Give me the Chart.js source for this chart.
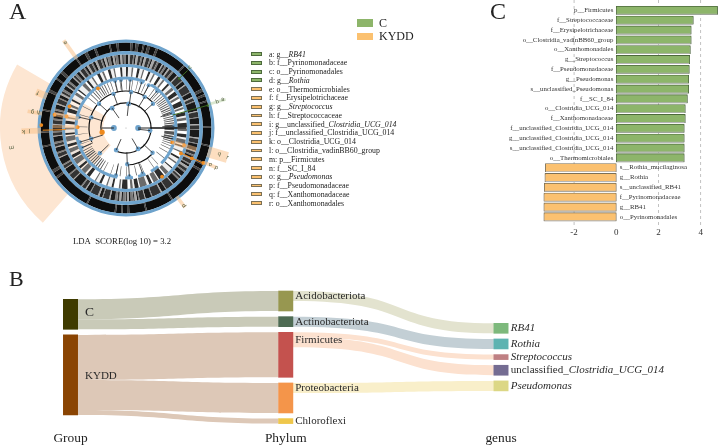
<!DOCTYPE html>
<html>
<head>
<meta charset="utf-8">
<script src="https://cdn.jsdelivr.net/npm/chart.js@4"></script>
<style>
  body { margin: 0; background: #fff; font-family: "Liberation Serif", serif; color: #222; }
  #page { position: relative; width: 719px; height: 448px; overflow: hidden; }
  canvas { position: absolute; }
  #bandChart, #nodeChart { filter: blur(0.4px); }
  .txt { position: absolute; white-space: nowrap; line-height: 1; }
  .swatch { position: absolute; box-sizing: border-box; }
</style>
</head>
<body>
<div id="page">
  <canvas id="wedgeChart" width="256" height="256" style="left:-2.3px;top:0.3px"></canvas>
  <canvas id="bandChart" width="256" height="256" style="left:-2.3px;top:0.3px"></canvas>
  <canvas id="nodeChart" width="256" height="256" style="left:-2.3px;top:0.3px"></canvas>
  <canvas id="ldaChart" width="239" height="240" style="left:480px;top:0"></canvas>
  <canvas id="sankeyChart" width="719" height="178" style="left:0;top:270px"></canvas>
  <div class="txt" style="left:9px;top:-1px;font-size:24px">A</div>
  <div class="txt" style="left:9px;top:268px;font-size:22px">B</div>
  <div class="txt" style="left:490px;top:-1px;font-size:24px">C</div>
  <div class="txt" style="left:73px;top:236.5px;font-size:8.7px">LDA&nbsp; SCORE(log 10) = 3.2</div>
  <div id="legend"></div>
</div>
<script>
// ---- panel A: cladogram legend
const legendLetters = ["a","b","c","d","e","f","g","h","i","j","k","l","m","n","o","p","q","r"];
const legendPrefix = ["g__","f__Pyrinomonadaceae","o__Pyrinomonadales","g__","o__Thermomicrobiales","f__Erysipelotrichaceae","g__","f__Streptococcaceae","g__unclassified_","f__unclassified_Clostridia_UCG_014","o__Clostridia_UCG_014","o__Clostridia_vadinBB60_group","p__Firmicutes","f__SC_I_84","g__","f__Pseudomonadaceae","f__Xanthomonadaceae","o__Xanthomonadales"];
const legendItalic = ["RB41","","","Rothia","","","Streptococcus","","Clostridia_UCG_014","","","","","","Pseudomonas","","",""];
const legendGroup = ["C","C","C","C","KYDD","KYDD","KYDD","KYDD","KYDD","KYDD","KYDD","KYDD","KYDD","KYDD","KYDD","KYDD","KYDD","KYDD"];
const groupLegend = ["C","KYDD"];

// ---- panel A: cladogram (angles in degrees, clockwise from the top)
const wedgeWidths = [221.3, 78.9, 59.8];
const speciesBand = [3,1.5,2,2,3,1,2,2,4,1.5,20.5,1,19,2,2,1.5,3,1,16.5,1,12,1,11,2,3,1.5,26.5,1,18,1,11,1.5,3,1,3.5,1,19,1,26,1.5,3,2,16.5,1,9,1,14,1,12,2,8,1,4,2,12,1,6,2,5,1.5,9,1,4,1.5,5];
const genusBand = [1.5,1.2,2,0.8,1,1.5,1.8,1,1.2,1.4,2.2,0.9,1,1.6,1.7,1.1,2.4,0.8,1.3,1.2,1.6,1,2,1.2,
  3,0.7,4,0.6,2.5,0.8,5,0.5,3,0.9,2,0.6,6,0.7,3.5,0.5,4,0.8,2.5,0.6,5,0.7,3,0.5,4.5,0.8,
  2,1,1.5,1.2,2.5,0.8,1.5,1.4,2,1,3,0.7,1.5,1,
  4,0.6,5,0.5,3,0.8,6,0.6,4,0.5,3.5,0.7,
  1,1.5,0.8,1.8,1.2,1.2,0.8,2,1,1.4,1.2,1.6,
  3,0.8,4,0.6,2,1,5,0.5,3,0.7,2.5,0.9,6,0.6,3.5,0.8,4,0.5,2,1,4.5,0.6,
  2.5,1,3,0.8,1.8,1.2,3.5,0.7,2,1,4,0.6,2.5,1.1,3,0.8,1.5,1.2,2.8,0.9,3,0.8,
  2,1.2,1.5,1.4,2.5,0.9,1.8,1.2,3,0.8,1.4,1.5,2,1,2.6,1,1.5,1.3,2.2,1,1.6,1.4,2.4,1,
  1.2,1.5,1,1.8,1.5,1.2,0.8,1.6,1.4,1.3,1,1.5];
const familyBand = [1,1.8,0.8,2,1.2,1.5,0.7,2.2,1,1.6,0.8,1.9,1.3,1.4,0.9,2.1,1,1.7,
  1.5,1,2,0.8,1.2,1.3,2.5,0.7,1,1.5,1.8,0.9,1.4,1.2,2.2,0.8,1.1,1.5,1.6,1,2.4,0.7,
  0.9,2,0.7,2.3,1,1.8,0.8,2.5,0.6,2.2,
  2,0.7,3,0.6,2.5,0.8,1.5,1.2,3.5,0.6,2,0.9,1.2,1.4,2.8,0.7,
  0.8,2.6,1,2,0.7,2.4,1.2,1.8,0.6,3,
  1.8,1,2.5,0.7,1.2,1.5,3,0.6,1.6,1.2,2,0.9,1.4,1.3,2.6,0.7,1,1.6,
  1,1.8,1.6,1.2,0.8,2.2,2,0.9,1.2,1.7,0.9,2.4,1.5,1.1,0.7,2.5,1.8,1,1.1,1.9,0.8,2.3,1.4,1.3,0.9,2,1.3,1.5,0.7,2.6,1,1.9];
const orderBand = [0.5,5,0.5,4,0.5,6,0.5,3,0.5,5,0.5,4,
  0.6,2,0.6,1.5,0.7,1.4,0.6,1.2,0.8,1,0.7,1.2,0.9,1,0.8,1.2,1,0.9,0.8,1,1,1.1,0.7,1.2,0.8,1,
  0.9,1,0.8,1.1,1,0.9,1.4,0.9,2.5,1,3,0.8,1.5,0.9,1,1,0.8,1.2,0.7,1.4,0.6,2,0.6,3,
  0.5,5,0.5,7,0.5,4,0.5,9,0.5,6,0.6,8,0.5,5,
  0.6,3,0.6,4,0.5,6,0.5,2.5,0.8,1.5,0.8,1.2,1,1.3,0.8,1.1,1,1.2,0.7,1.5,0.8,1.2,1.1,1,0.8,1.3,0.7,1.6,0.6,2,0.6,3,
  0.5,8,0.5,6,0.5,10,0.5,7,0.5,8,0.6,3,0.7,2,0.8,1.5,0.7,1.8,0.6,1.5,0.9,1.2,0.7,1.6,0.8,2,0.6,2.4,0.6,3,0.5,4,0.5,5];
const orderArcs = [[0,22],[30,135],[140,150],[157,166],[172,181],[190,260],[262,360]];
const classArcs = [[0,50],[133,180],[248,360]];
const phylumArcs = [[0,206],[258,360]];
const phylumNodes = [6,96,150,204,325];
const classNodes = [287,253,8,31,48,133,178,226,312,340];
const orderNodes = [19,354,5,347,283,253,246,72,88,103,160,176,192,28,40];
const kingdomNodes = [270,90];
const kyddNodes = [[2,260],[4,271],[5,281],[5,291],[6,280.5],[7,272],[4,324.7],[4,107],[5,106.5],[5,114.8],[6,114.7],[7,114.3],[5,143.5]];
const cNodes = [[7,74.6],[6,47]];
// angle, inner radius, outer radius, width in degrees
const kyddStrips = [[324.6,88,111,2],[291.9,88,100,4],[279.7,88,103,2],[268.2,88,108,3],[106.2,88,109,5.7],[113.7,88,102,2],[143.4,88,102,2],[107,50,76,3.5],[281,50,76,3],[271,50,76,2.5]];
const cStrips = [[46.5,88,92,1.5],[74,88,107,1.5]];
const kyddLines = [[268.5,62,86],[114.5,62,86]];
const cLines = [[74.5,50,87],[47,74,87]];
const cladeLetters = ["m","f","g","h","k","l","e","r","q","p","o","d","c","b","a"];
const letterAngles = [260.4,291.9,279.8,280.5,268,268.5,324.6,106.2,105.5,113.7,113.5,143.4,46.5,74,73.5];
const letterRadii = [120,98,98,92,106,100,108,109,100,102,95,100,91,98,104];

// ---- panel C: LDA scores
const ldaLabels = ["p__Firmicutes","f__Streptococcaceae","f__Erysipelotrichaceae","o__Clostridia_vadinBB60_group","o__Xanthomonadales","g__Streptococcus","f__Pseudomonadaceae","g__Pseudomonas","s__unclassified_Pseudomonas","f__SC_I_84","o__Clostridia_UCG_014","f__Xanthomonadaceae","f__unclassified_Clostridia_UCG_014","g__unclassified_Clostridia_UCG_014","s__unclassified_Clostridia_UCG_014","o__Thermomicrobiales","s__Rothia_mucilaginosa","g__Rothia","s__unclassified_RB41","f__Pyrinomonadaceae","g__RB41","o__Pyrinomonadales"];
const ldaC = [4.8,3.65,3.55,3.55,3.51,3.48,3.46,3.43,3.43,3.37,3.27,3.27,3.22,3.22,3.22,3.22,null,null,null,null,null,null];
const ldaKYDD = [null,null,null,null,null,null,null,null,null,null,null,null,null,null,null,null,-3.36,-3.38,-3.41,-3.43,-3.43,-3.43];
const ldaTicks = [-2,0,2,4];

// ---- panel B: sankey
const columnNames = ["Group","Phylum","genus"];
const groupNames = ["C","KYDD"];
const groupValues = [6,16];
const phylumNames = ["Acidobacteriota","Actinobacteriota","Firmicutes","Proteobacteria","Chloroflexi"];
const phylumValues = [4,2,9,6,1];
const phylumParent = [0,0,1,1,1];
const genusNames = ["RB41","Rothia","Streptococcus","unclassified_","Pseudomonas"];
const genusValues = [2,2,1,2,2];
const genusParent = [0,1,2,2,3];

const GREEN = "#8db56a", GREEN_EDGE = "#4d6a3c", ORANGE = "#fbc170", ORANGE_EDGE = "#7c7055";
const BLUE = "#6ea3cc", PEACH = "#fde6d2", SERIF = "Liberation Serif";
const CLEAR = "rgba(0,0,0,0)";

function $(id) { return document.getElementById(id); }

// legends are plain html
const legendBox = $("legend");
groupLegend.forEach((name, i) => {
  legendBox.innerHTML += `<div class="swatch" style="left:357.3px;top:${19.3 + i * 13.4}px;width:16px;height:7.4px;background:${i ? ORANGE : GREEN}"></div>`
    + `<div class="txt" style="left:379px;top:${16.5 + i * 13.4}px;font-size:12px">${name}</div>`;
});
legendLetters.forEach((letter, i) => {
  const y = 54 + i * 8.765;
  const isC = legendGroup[i] === "C";
  legendBox.innerHTML += `<div class="swatch" style="left:250.7px;top:${y - 1.8}px;width:11.4px;height:3.8px;background:${isC ? GREEN : ORANGE};border:0.7px solid ${isC ? GREEN_EDGE : ORANGE_EDGE}"></div>`
    + `<div class="txt" style="left:269px;top:${y - 3.4}px;font-size:7.85px">${letter}: ${legendPrefix[i]}<i>${legendItalic[i]}</i></div>`;
});

const baseOptions = {
  responsive: false,
  animation: false,
  events: [],
  plugins: { legend: { display: false }, tooltip: { enabled: false } }
};

// turns [start,end] arcs into gap/arc widths for a doughnut ring
function arcWidths(arcs) {
  const out = [];
  let pos = 0;
  arcs.forEach(a => {
    out.push(a[0] - pos, a[1] - a[0]);
    pos = a[1];
  });
  out.push(360 - pos);
  return out;
}

function ring(widths, weight, colors) {
  return {
    data: widths,
    weight: weight,
    borderWidth: 0,
    backgroundColor: widths.map((w, i) => colors[i % colors.length])
  };
}

new Chart($("wedgeChart"), {
  type: "doughnut",
  data: {
    datasets: [
      ring([360], 2, [CLEAR]),
      ring(wedgeWidths, 103, [CLEAR, PEACH]),
      ring([360], 23, [CLEAR])
    ]
  },
  options: { ...baseOptions, cutout: 0 }
});

// rings go from the outside to the inside, weights are pixels of radius
new Chart($("bandChart"), {
  type: "doughnut",
  data: {
    datasets: [
      ring([360], 39.5, [CLEAR]),
      ring([360], 3, [BLUE]),
      ring(speciesBand, 8.5, ["#0d0d0d", "#444444"]),
      ring([360], 3.5, [BLUE]),
      ring(genusBand, 9.5, ["#1a1a1a", "#a8a8a8", "#333333", "#7c7c7c"]),
      ring([360], 3, [BLUE]),
      ring(familyBand, 9.5, ["#2c2c2c", "rgba(225,225,225,0.55)", "#6a6a6a", "rgba(255,255,255,0.4)"]),
      ring(arcWidths(orderArcs), 3, [CLEAR, BLUE]),
      ring(orderBand, 10, ["#555555", CLEAR]),
      ring([360], 0.9, [CLEAR]),
      ring(arcWidths(classArcs), 1.2, [CLEAR, "#111111"]),
      ring([360], 10.7, [CLEAR]),
      ring(arcWidths(phylumArcs), 1.2, [CLEAR, "#111111"]),
      ring([360], 24.5, [CLEAR])
    ]
  },
  options: { ...baseOptions, cutout: 0 }
});

const LEVEL_R = 12.5;

function polar(angle, r) {
  const a = angle * Math.PI / 180;
  return { x: r * Math.sin(a), y: r * Math.cos(a) };
}

function spokes(nodes, level) {
  const out = [];
  nodes.forEach(angle => {
    out.push(polar(angle, (level - 1) * LEVEL_R), polar(angle, level * LEVEL_R), { x: null, y: null });
  });
  return out;
}

function lineSet(list, color, width) {
  const pts = [];
  list.forEach(l => pts.push(polar(l[0], l[1]), polar(l[0], l[2]), { x: null, y: null }));
  return { data: pts, showLine: true, spanGaps: false, pointRadius: 0, borderColor: color, borderWidth: width };
}

function stripSet(strip, color) {
  return {
    data: [polar(strip[0], strip[1]), polar(strip[0], strip[2])],
    showLine: true, pointRadius: 0, borderColor: color,
    borderWidth: strip[2] * strip[3] * Math.PI / 180
  };
}

function nodeSet(nodes, level, radius, color) {
  return {
    data: nodes.map(a => polar(a, level * LEVEL_R)),
    pointRadius: radius, pointBackgroundColor: color, pointBorderWidth: 0
  };
}

const cladeLetterPlugin = {
  id: "cladeLetters",
  afterDatasetsDraw(chart) {
    const { ctx, scales } = chart;
    ctx.save();
    ctx.font = "5.5px 'DejaVu Sans'";
    ctx.fillStyle = "#4d5a3c";
    ctx.textAlign = "center";
    ctx.textBaseline = "middle";
    cladeLetters.forEach((letter, i) => {
      const p = polar(letterAngles[i], letterRadii[i]);
      ctx.save();
      ctx.translate(scales.x.getPixelForValue(p.x), scales.y.getPixelForValue(p.y));
      ctx.rotate((letterAngles[i] - 90) * Math.PI / 180);
      ctx.fillText(letter, 0, 0);
      ctx.restore();
    });
    ctx.restore();
  }
};

new Chart($("nodeChart"), {
  type: "scatter",
  data: {
    datasets: [
      ...kyddStrips.map(s => stripSet(s, "rgba(249,190,130,0.5)")),
      ...cStrips.map(s => stripSet(s, "rgba(150,185,120,0.35)")),
      lineSet([[270, LEVEL_R, 2 * LEVEL_R], [90, LEVEL_R, 2 * LEVEL_R]], "#222", 1),
      { data: [...spokes(phylumNodes, 2), ...spokes(classNodes, 3), ...spokes(orderNodes, 4)], showLine: true, spanGaps: false, pointRadius: 0, borderColor: "#222", borderWidth: 0.8 },
      lineSet([[90, 2 * LEVEL_R, 5 * LEVEL_R]], "#111", 1.6),
      lineSet(kyddLines, "#ee8a1e", 1),
      lineSet(cLines, "#3d6a22", 1),
      { data: [{ x: 0, y: 0 }], pointRadius: 0.5, pointBackgroundColor: "#999", pointBorderWidth: 0 },
      nodeSet(kingdomNodes, 1, 2.9, BLUE),
      nodeSet(phylumNodes, 2, 2.4, BLUE),
      nodeSet(classNodes, 3, 2.2, BLUE),
      nodeSet(orderNodes, 4, 2.1, BLUE),
      { data: kyddNodes.map(n => polar(n[1], n[0] * LEVEL_R)), pointRadius: c => (kyddNodes[c.dataIndex][0] === 2 ? 2.6 : 1.9), pointBackgroundColor: "#ee8a1e", pointBorderWidth: 0 },
      { data: cNodes.map(n => polar(n[1], n[0] * LEVEL_R)), pointRadius: 1.2, pointBackgroundColor: "#3d6a22", pointBorderWidth: 0 }
    ]
  },
  options: {
    ...baseOptions,
    layout: { padding: 0 },
    scales: {
      x: { type: "linear", min: -128, max: 128, display: false },
      y: { type: "linear", min: -128, max: 128, display: false }
    }
  },
  plugins: [cladeLetterPlugin]
});

// bar labels sit against the zero line, on the free side of each bar
const ldaLabelPlugin = {
  id: "ldaLabels",
  beforeDatasetDraw(chart) {
    const ctx = chart.ctx;
    ctx.save();
    ctx.shadowColor = "#b5b5b5";
    ctx.shadowOffsetY = 1;
    ctx.shadowBlur = 0;
  },
  afterDatasetDraw(chart) {
    chart.ctx.restore();
  },
  afterDatasetsDraw(chart) {
    const { ctx, scales } = chart;
    const zero = scales.x.getPixelForValue(0);
    ctx.save();
    ctx.font = `6.8px '${SERIF}'`;
    ctx.fillStyle = "#333";
    ctx.textBaseline = "middle";
    ldaLabels.forEach((label, i) => {
      const y = scales.y.getPixelForValue(i);
      if (ldaC[i] !== null) {
        ctx.textAlign = "right";
        ctx.fillText(label, zero - 3, y);
      } else {
        ctx.textAlign = "left";
        ctx.fillText(label, zero + 3.5, y);
      }
    });
    ctx.restore();
  }
};

function ldaSet(values, color, edge) {
  return {
    data: values,
    backgroundColor: color,
    borderColor: edge,
    borderWidth: 0.9,
    borderSkipped: false,
    barThickness: 8.2,
    grouped: false,
    clip: false
  };
}

new Chart($("ldaChart"), {
  type: "bar",
  data: {
    labels: ldaLabels,
    datasets: [ldaSet(ldaC, GREEN, GREEN_EDGE), ldaSet(ldaKYDD, ORANGE, ORANGE_EDGE)]
  },
  options: {
    ...baseOptions,
    indexAxis: "y",
    layout: { padding: { left: 60.3, right: 0, top: 5.4, bottom: 0 } },
    scales: {
      y: { display: false },
      x: {
        type: "linear",
        min: -3.6,
        max: 4.867,
        afterBuildTicks(scale) { scale.ticks = ldaTicks.map(v => ({ value: v })); },
        afterFit(scale) { scale.height = 18.3; },
        border: { display: false },
        grid: { display: false, tickLength: 3 },
        ticks: { font: { family: SERIF, size: 9 }, color: "#333", padding: 3, maxRotation: 0, autoSkip: false }
      }
    }
  },
  plugins: [{
    id: "ldaDash",
    beforeDatasetsDraw(chart) {
      // dashed guides run to the very top of the panel
      const { ctx, scales, chartArea } = chart;
      ctx.save();
      ctx.strokeStyle = "#a8a8a8";
      ctx.lineWidth = 0.7;
      ctx.setLineDash([3, 3]);
      ldaTicks.forEach(v => {
        if (v === 0) return;
        const x = scales.x.getPixelForValue(v);
        ctx.beginPath();
        ctx.moveTo(x, 0);
        ctx.lineTo(x, chartArea.bottom + 4);
        ctx.stroke();
      });
      ctx.restore();
    }
  }, ldaLabelPlugin]
});

// stacks a column of node values from a start offset, with a fixed gap
const GAP = 1.13;
function stack(values, start) {
  let pos = start;
  return values.map(v => {
    const span = [pos, pos + v];
    pos += v + GAP;
    return span;
  });
}

const groupSpans = stack(groupValues, 1.66);
const phylumSpans = stack(phylumValues, 0);
const genusSpans = stack(genusValues, 6.46);

const groupColors = ["#3f3b00", "#8a4402"];
const phylumColors = ["#979750", "#4e6b53", "#c4524e", "#f4954a", "#efc74b"];
const genusColors = ["#7db97c", "#5eb3b1", "#bf8083", "#746c92", "#dcd785"];
const groupFlowColors = ["#c9cab8", "#ddc8b7"];
const phylumFlowColors = ["#e3e3cf", "#c3cfd5", "#fce1cf", "#f9efca"];

function nodeDatasets(spans, colors, col) {
  return spans.map((span, i) => ({
    data: columnNames.map((n, c) => (c === col ? span : null)),
    backgroundColor: colors[i],
    borderWidth: 0,
    barThickness: 14.3,
    grouped: false,
    clip: false
  }));
}

function drawFlows(chart, parents, parentSpans, childSpans, colors, col, bend0, bend1) {
  const { ctx, scales } = chart;
  const halfBar = 7.15;
  const x0 = scales.x.getPixelForValue(col) + halfBar;
  const x1 = scales.x.getPixelForValue(col + 1) - halfBar;
  const c0 = x0 + (x1 - x0) * bend0;
  const c1 = x0 + (x1 - x0) * bend1;
  const used = parentSpans.map(s => s[0]);
  parents.forEach((p, i) => {
    const v = childSpans[i][1] - childSpans[i][0];
    const a0 = scales.y.getPixelForValue(used[p]);
    const a1 = scales.y.getPixelForValue(used[p] + v);
    const b0 = scales.y.getPixelForValue(childSpans[i][0]);
    const b1 = scales.y.getPixelForValue(childSpans[i][1]);
    used[p] += v;
    ctx.fillStyle = colors[p];
    ctx.beginPath();
    ctx.moveTo(x0, a0);
    ctx.bezierCurveTo(c0, a0, c1, b0, x1, b0);
    ctx.lineTo(x1, b1);
    ctx.bezierCurveTo(c1, b1, c0, a1, x0, a1);
    ctx.closePath();
    ctx.fill();
  });
}

const sankeyFlowPlugin = {
  id: "sankeyFlows",
  beforeDatasetsDraw(chart) {
    drawFlows(chart, phylumParent, groupSpans, phylumSpans, groupFlowColors, 0, 0.5, 0.5);
    drawFlows(chart, genusParent, phylumSpans, genusSpans, phylumFlowColors, 1, 0.62, 0.45);
  },
  afterDatasetsDraw(chart) {
    const { ctx, scales } = chart;
    ctx.save();
    ctx.textBaseline = "middle";
    ctx.fillStyle = "#2a2a2a";
    const mid = s => scales.y.getPixelForValue((s[0] + s[1]) / 2);
    ctx.font = `13.5px '${SERIF}'`;
    ctx.fillText(groupNames[0], scales.x.getPixelForValue(0) + 14.5, mid(groupSpans[0]) - 2);
    ctx.font = `11px '${SERIF}'`;
    ctx.fillText(groupNames[1], scales.x.getPixelForValue(0) + 14.5, mid(groupSpans[1]) + 1);
    phylumNames.forEach((name, i) => {
      const top = scales.y.getPixelForValue(phylumSpans[i][0]);
      const drop = i === 2 ? 7.5 : Math.min(5, phylumValues[i] * 2.5);
      ctx.font = `11px '${SERIF}'`;
      ctx.fillText(name, scales.x.getPixelForValue(1) + 9.5, top + drop);
    });
    genusNames.forEach((name, i) => {
      const x = scales.x.getPixelForValue(2) + 9.7;
      ctx.font = i === 3 ? `11px '${SERIF}'` : `italic 11px '${SERIF}'`;
      ctx.fillText(name, x, mid(genusSpans[i]));
      if (i === 3) {
        const w = ctx.measureText(name).width;
        ctx.font = `italic 11px '${SERIF}'`;
        ctx.fillText("Clostridia_UCG_014", x + w, mid(genusSpans[i]));
      }
    });
    ctx.restore();
  }
};

new Chart($("sankeyChart"), {
  type: "bar",
  data: {
    labels: columnNames,
    datasets: [
      ...nodeDatasets(groupSpans, groupColors, 0),
      ...nodeDatasets(phylumSpans, phylumColors, 1),
      ...nodeDatasets(genusSpans, genusColors, 2)
    ]
  },
  options: {
    ...baseOptions,
    layout: { padding: { left: 70.5, right: 218, top: 15, bottom: 0 } },
    scales: {
      y: { type: "linear", reverse: true, min: -1.2, max: 27.4, display: false },
      x: {
        offset: false,
        afterFit(scale) { scale.height = 20; },
        border: { display: false },
        grid: { display: false, drawTicks: false },
        ticks: { font: { family: SERIF, size: 13.4 }, color: "#222", padding: 2, maxRotation: 0 }
      }
    }
  },
  plugins: [sankeyFlowPlugin]
});
</script>
</body>
</html>
